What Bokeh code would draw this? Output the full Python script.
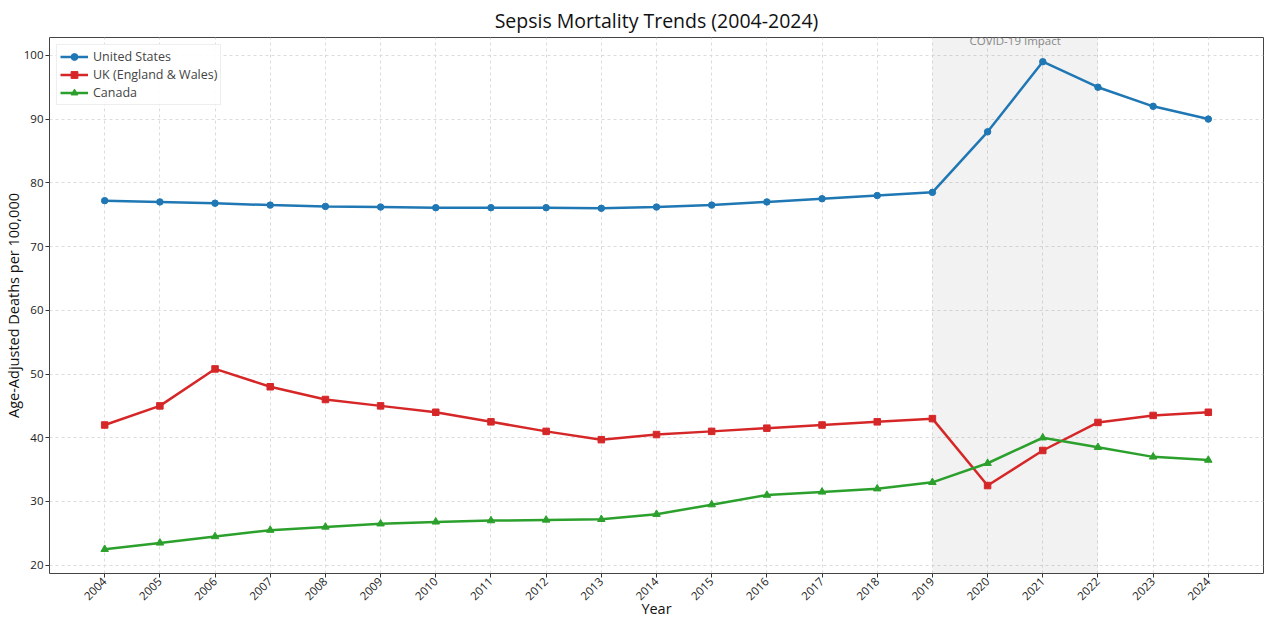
import math
from bokeh.plotting import figure
from bokeh.models import ColumnDataSource, FixedTicker, BoxAnnotation, Label, Range1d
from bokeh.embed import file_html
from bokeh.resources import INLINE

years = list(range(2004, 2025))
us = [77.2, 77.0, 76.8, 76.5, 76.3, 76.2, 76.1, 76.1, 76.1, 76.0, 76.2,
      76.5, 77.0, 77.5, 78.0, 78.5, 88.0, 99.0, 95.0, 92.0, 90.0]
uk = [42.0, 45.0, 50.8, 48.0, 46.0, 45.0, 44.0, 42.5, 41.0, 39.7, 40.5,
      41.0, 41.5, 42.0, 42.5, 43.0, 32.5, 38.0, 42.4, 43.5, 44.0]
canada = [22.5, 23.5, 24.5, 25.5, 26.0, 26.5, 26.8, 27.0, 27.1, 27.2, 28.0,
          29.5, 31.0, 31.5, 32.0, 33.0, 36.0, 40.0, 38.5, 37.0, 36.5]
y_ticks = [20, 30, 40, 50, 60, 70, 80, 90, 100]
covid_start, covid_end = 2019, 2022
covid_label = "COVID-19 Impact"

FONT = "Open Sans"
Y0, Y1 = 18.7, 102.8

src = ColumnDataSource(dict(year=years, us=us, uk=uk, canada=canada))

p = figure(width=1264, height=620, output_backend="svg", toolbar_location=None,
           x_range=Range1d(2003, 2025), y_range=Range1d(Y0, Y1),
           title="Sepsis Mortality Trends (2004-2024)",
           min_border_left=0, min_border_right=1, min_border_top=0, min_border_bottom=0)

p.title.align = "center"
p.title.text_font = FONT
p.title.text_font_size = "19.5px"
p.title.text_font_style = "normal"
p.title.text_color = "#111111"
p.title.offset = 0
p.title.standoff = 8

p.outline_line_color = "#444444"
p.outline_line_width = 1
p.background_fill_color = "white"
p.border_fill_color = "white"

box = BoxAnnotation(left=covid_start, right=covid_end, fill_color="#808080",
                    fill_alpha=0.1, line_color=None, level="underlay")
p.add_layout(box)

p.xgrid.grid_line_color = "#dcdcdc"
p.ygrid.grid_line_color = "#dcdcdc"
p.xgrid.grid_line_dash = "3 3"
p.ygrid.grid_line_dash = "3 3"

p.xaxis.ticker = FixedTicker(ticks=years)
p.yaxis.ticker = FixedTicker(ticks=y_ticks)
p.xaxis.major_label_orientation = math.pi / 4
for ax in (p.xaxis, p.yaxis):
    ax.axis_line_color = None
    ax.major_tick_line_color = "#333333"
    ax.major_tick_out = 4
    ax.major_tick_in = 0
    ax.minor_tick_line_color = None
    ax.major_label_text_font = FONT
    ax.major_label_text_font_size = "11.5px"
    ax.major_label_text_color = "#222222"
    ax.major_label_standoff = 2
    ax.axis_label_text_font = FONT
    ax.axis_label_text_font_size = "14.5px"
    ax.axis_label_text_font_style = "normal"
    ax.axis_label_text_color = "#111111"
p.xaxis.major_label_text_line_height = 1.0
p.xaxis.axis_label = "Year"
p.xaxis.axis_label_standoff = -8
p.yaxis.axis_label = "Age-Adjusted Deaths per 100,000"
p.yaxis.axis_label_standoff = -2

series = [
    ("us", "United States", "#1f77b4", "circle", 6.5),
    ("uk", "UK (England & Wales)", "#d62728", "square", 6.5),
    ("canada", "Canada", "#2ca02c", "triangle", 7.5),
]
for col, label, color, marker, size in series:
    p.line("year", col, source=src, line_color=color, line_width=2.5, legend_label=label)
    p.scatter("year", col, source=src, marker=marker, size=size, fill_color=color,
              line_color=color, legend_label=label)

p.add_layout(Label(x=(covid_start + covid_end) / 2, y=102.3, text=covid_label,
                   text_align="center", text_baseline="middle", text_font=FONT,
                   text_font_size="11.5px", text_color="#888888"))

p.legend.location = "top_left"
p.legend.label_text_font = FONT
p.legend.label_text_font_size = "12.5px"
p.legend.border_line_color = "#dddddd"
p.legend.background_fill_alpha = 0.9
p.legend.spacing = 1
p.legend.padding = 3
p.legend.margin = 7
p.legend.label_height = 17
p.legend.glyph_height = 17
p.legend.glyph_width = 28
p.legend.label_standoff = 5

open("out.html", "w").write(file_html(p, INLINE))
